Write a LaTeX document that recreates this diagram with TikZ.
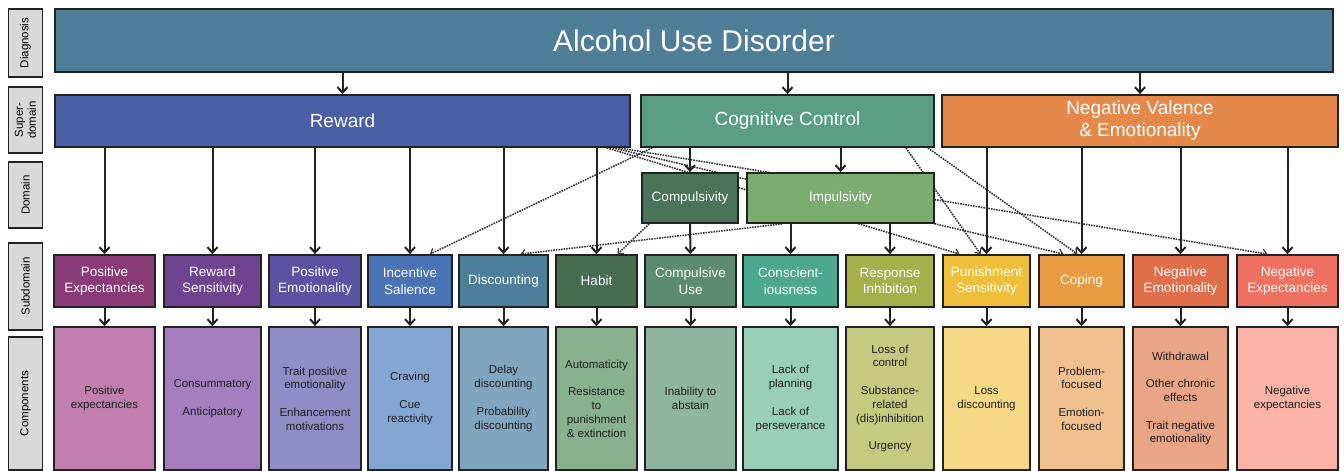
\documentclass[tikz,border=0pt]{standalone}
\usepackage{fontspec}
\setmainfont{Liberation Sans}
\usetikzlibrary{arrows.meta,backgrounds}

\definecolor{linec}{HTML}{222222}
\definecolor{dotc}{HTML}{383838}
\definecolor{sidegray}{HTML}{D9D9D9}
\definecolor{diagc}{HTML}{4F7F98}
\definecolor{rewc}{HTML}{4A5FA5}
\definecolor{cogc}{HTML}{5A9E84}
\definecolor{negc}{HTML}{E5894A}
\definecolor{cmpc}{HTML}{4A7358}
\definecolor{impc}{HTML}{7BAE6E}
\definecolor{subpe}{HTML}{8B3A78}\definecolor{comppe}{HTML}{C07FAF}
\definecolor{subrs}{HTML}{6E4490}\definecolor{comprs}{HTML}{A47EBF}
\definecolor{subpm}{HTML}{5B52A3}\definecolor{comppm}{HTML}{8F8CC6}
\definecolor{subis}{HTML}{4A73B6}\definecolor{compis}{HTML}{84A6D3}
\definecolor{subdc}{HTML}{4D7E9A}\definecolor{compdc}{HTML}{7FA5BF}
\definecolor{subhb}{HTML}{476C4F}\definecolor{comphb}{HTML}{89B18E}
\definecolor{subcu}{HTML}{5B8C71}\definecolor{compcu}{HTML}{8FB49F}
\definecolor{subcs}{HTML}{4CA98F}\definecolor{compcs}{HTML}{99CEB9}
\definecolor{subri}{HTML}{A5B04B}\definecolor{compri}{HTML}{C5CA80}
\definecolor{subps}{HTML}{EFBF3B}\definecolor{compps}{HTML}{F6D987}
\definecolor{subcp}{HTML}{E99B43}\definecolor{compcp}{HTML}{F0C18F}
\definecolor{subne}{HTML}{E06E4B}\definecolor{compne}{HTML}{EAA588}
\definecolor{subnx}{HTML}{EF715F}\definecolor{compnx}{HTML}{FAB3A6}

\begin{document}
\begin{tikzpicture}[x=1pt,y=-1pt,>={Straight Barb[length=5.5pt,width=10pt]}]
            \tikzset{
	box/.style={draw=linec,line width=1.8pt,inner sep=0pt,text=white,align=center},
	side/.style={box,fill=sidegray,text=black,rotate=90,minimum height=34pt,font=\fontsize{11.5}{13}\selectfont},
	supbox/.style={box,minimum height=52pt,font=\fontsize{19}{22}\selectfont},
	dombox/.style={box,minimum height=50pt,font=\fontsize{13.5}{16.5}\selectfont},
	subbox/.style={box,minimum height=52pt,font=\fontsize{13.5}{16.5}\selectfont},
	compbox/.style={box,minimum height=143pt,text=black!88,font=\fontsize{11.5}{13.7}\selectfont},
	link/.style={draw=linec,line width=2pt,->},
	cross/.style={draw=dotc,line width=1.6pt,densely dotted,-{Straight Barb[length=4pt,width=8pt,line width=1.2pt]}}
}
\useasboundingbox (0,0) rectangle (1344,471);

\node[side,minimum width=68pt] (ldiag) at (25.5,43) {Diagnosis};
\node[side,minimum width=66pt] (lsup) at (25.5,120) {Super-\\domain};
\node[side,minimum width=66pt] (ldom) at (25.5,195) {Domain};
\node[side,minimum width=87pt] (lsub) at (25.5,286.5) {Subdomain};
\node[side,minimum width=133pt] (lcomp) at (25.5,403.5) {Components};

\node[box,fill=diagc,minimum width=1278pt,minimum height=63pt,font=\fontsize{30}{34}\selectfont] (aud) at (694,40.5) {Alcohol Use Disorder};

\node[supbox,fill=rewc,minimum width=575pt] (rw) at (342.5,121) {Reward};
\node[supbox,fill=cogc,minimum width=293pt] (cc) at (787.5,121) {Cognitive Control};
\node[supbox,fill=negc,minimum width=396pt] (nv) at (1140,121) {Negative Valence\\\& Emotionality};

\node[dombox,fill=cmpc,minimum width=96pt] (cm) at (690,198) {Compulsivity};
\node[dombox,fill=impc,minimum width=187pt] (im) at (840.5,198) {Impulsivity};

\foreach \nm/\xa/\xb/\st/\ct in {
	pe/54/155/{Positive\\Expectancies}/{Positive\\expectancies},
	rs/164/261/{Reward\\Sensitivity}/{Consummatory\\[14pt]Anticipatory},
	pm/269/361/{Positive\\Emotionality}/{Trait positive\\emotionality\\[14pt]Enhancement\\motivations},
	is/368/452/{Incentive\\Salience}/{Craving\\[14pt]Cue\\reactivity},
	dc/459/548/{Discounting}/{Delay\\discounting\\[14pt]Probability\\discounting},
	hb/556/637/{Habit}/{Automaticity\\[14pt]Resistance\\to\\punishment\\\& extinction},
	cu/645/736/{Compulsive\\Use}/{Inability to\\abstain},
	cs/743/838/{Conscient-\\iousness}/{Lack of\\planning\\[14pt]Lack of\\perseverance},
	ri/846/934/{Response\\Inhibition}/{Loss of\\control\\[14pt]Substance-\\related\\(dis)inhibition\\[14pt]Urgency},
	ps/943/1030/{Punishment\\Sensitivity}/{Loss\\discounting},
	cp/1039/1124/{Coping}/{Problem-\\focused\\[14pt]Emotion-\\focused},
	ne/1133/1228/{Negative\\Emotionality}/{Withdrawal\\[14pt]Other chronic\\effects\\[14pt]Trait negative\\emotionality},
	nx/1237/1338/{Negative\\Expectancies}/{Negative\\expectancies}}
{
	\node[subbox,fill=sub\nm,minimum width={(\xb-\xa)*1pt}] (\nm) at ({(\xa+\xb)/2},281) {\st};
	\node[compbox,fill=comp\nm,minimum width={(\xb-\xa)*1pt}] (c\nm) at ({(\xa+\xb)/2},398.5) {\ct};
	\draw[link] (\nm) -- (c\nm);
}

\foreach \s in {rw,cc,nv}
	\draw[link] (aud.south -| \s.north) -- (\s.north);
\foreach \s in {pe,rs,pm,is,dc,hb}
	\draw[link] (rw.south -| \s.north) -- (\s.north);
\foreach \s in {cm,im}
	\draw[link] (cc.south -| \s.north) -- (\s.north);
\draw[link] (cm) -- (cu);
\foreach \s in {cs,ri}
	\draw[link] (im.south -| \s.north) -- (\s.north);
\foreach \s in {ps,cp,ne,nx}
	\draw[link] (nv.south -| \s.north) -- (\s.north);

\begin{pgfonlayer}{background}
\draw[cross] ([xshift=12pt]cc.south west) -- ([xshift=20pt]is.north);
\draw[cross] ([xshift=8pt]cm.south west) -- ([xshift=21pt]hb.north);
\draw[cross] ([xshift=36pt]im.south west) -- ([xshift=17pt]dc.north);
\draw[cross] ([xshift=-24pt]rw.south east) -- ([xshift=-27pt]ps.north);
\draw[cross] ([xshift=-18pt]rw.south east) -- ([xshift=-18pt]cp.north);
\draw[cross] ([xshift=-12pt]rw.south east) -- ([xshift=-20pt]nx.north);
\draw[cross] ([xshift=-29pt]cc.south east) -- ([xshift=-6pt]ps.north);
\draw[cross] ([xshift=-7pt]cc.south east) -- ([xshift=-4pt]cp.north);
\end{pgfonlayer}
        \end{tikzpicture}
\end{document}
